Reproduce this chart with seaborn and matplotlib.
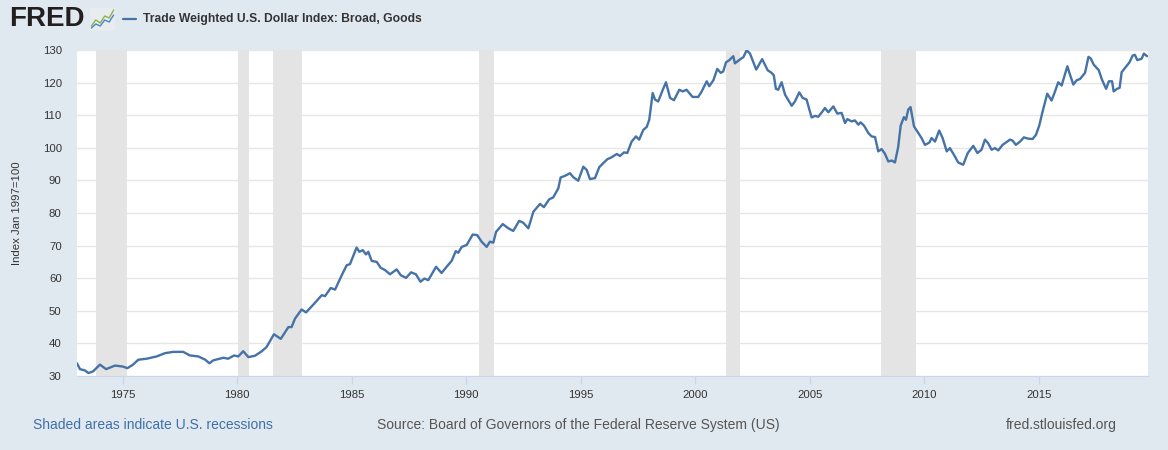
import matplotlib
matplotlib.use('Agg')
import matplotlib.pyplot as plt
import seaborn as sns
import pandas as pd

sns.set_style('white')
plt.rcParams['font.family'] = ['Liberation Sans', 'DejaVu Sans']

bg_color = '#e1e9f0'
line_color = '#4572a7'
text_color = '#333333'

# decimal year, index value
years = [
    1973.00, 1973.13, 1973.35, 1973.50, 1973.70, 1974.00, 1974.27, 1974.66, 1975.00, 1975.20,
    1975.43, 1975.68, 1976.04, 1976.48, 1976.84, 1977.20, 1977.64, 1977.93, 1978.30, 1978.60,
    1978.78, 1978.95, 1979.40, 1979.60, 1979.86, 1980.04, 1980.26, 1980.48, 1980.77, 1981.07,
    1981.28, 1981.60, 1981.90, 1982.23, 1982.37, 1982.52, 1982.81, 1983.00, 1983.32, 1983.69,
    1983.83, 1984.08, 1984.27, 1984.56, 1984.78, 1984.92, 1985.21, 1985.33, 1985.48, 1985.62,
    1985.72, 1985.87, 1986.09, 1986.26, 1986.45, 1986.67, 1986.96, 1987.14, 1987.37, 1987.59,
    1987.80, 1988.00, 1988.17, 1988.34, 1988.68, 1988.92, 1989.14, 1989.36, 1989.54, 1989.65,
    1989.80, 1990.02, 1990.28, 1990.48, 1990.67, 1990.89, 1991.03, 1991.18, 1991.30, 1991.59,
    1991.84, 1992.05, 1992.31, 1992.49, 1992.71, 1992.93, 1993.22, 1993.39, 1993.62, 1993.80,
    1994.02, 1994.12, 1994.31, 1994.53, 1994.67, 1994.89, 1995.11, 1995.26, 1995.40, 1995.62,
    1995.81, 1996.16, 1996.35, 1996.57, 1996.71, 1996.89, 1997.03, 1997.22, 1997.41, 1997.55,
    1997.73, 1997.88, 1997.99, 1998.14, 1998.24, 1998.38, 1998.57, 1998.72, 1998.90, 1999.07,
    1999.30, 1999.45, 1999.62, 1999.88, 2000.13, 2000.28, 2000.50, 2000.61, 2000.79, 2000.96,
    2001.11, 2001.22, 2001.34, 2001.49, 2001.66, 2001.73, 2001.95, 2002.10, 2002.24, 2002.39,
    2002.66, 2002.92, 2003.16, 2003.33, 2003.43, 2003.52, 2003.62, 2003.77, 2003.92, 2004.21,
    2004.35, 2004.54, 2004.69, 2004.86, 2005.08, 2005.23, 2005.37, 2005.56, 2005.66, 2005.81,
    2006.03, 2006.20, 2006.39, 2006.54, 2006.64, 2006.83, 2006.97, 2007.12, 2007.22, 2007.37,
    2007.56, 2007.70, 2007.85, 2007.99, 2008.14, 2008.28, 2008.43, 2008.58, 2008.72, 2008.86,
    2008.97, 2009.11, 2009.20, 2009.30, 2009.40, 2009.55, 2009.74, 2009.88, 2010.03, 2010.22,
    2010.32, 2010.47, 2010.65, 2010.80, 2010.98, 2011.12, 2011.30, 2011.48, 2011.70, 2011.90,
    2012.14, 2012.32, 2012.50, 2012.65, 2012.79, 2012.94, 2013.09, 2013.23, 2013.42, 2013.74,
    2013.86, 2014.00, 2014.18, 2014.35, 2014.54, 2014.73, 2014.88, 2015.02, 2015.17, 2015.37,
    2015.56, 2015.71, 2015.85, 2016.00, 2016.14, 2016.25, 2016.36, 2016.51, 2016.65, 2016.80,
    2017.02, 2017.17, 2017.27, 2017.40, 2017.62, 2017.76, 2017.94, 2018.06, 2018.20, 2018.27,
    2018.42, 2018.53, 2018.62, 2018.81, 2018.96, 2019.10, 2019.20, 2019.30, 2019.49, 2019.59,
    2019.73,
]
index_vals = [
    33.9, 32.1, 31.7, 30.9, 31.4, 33.5, 32.1, 33.2, 32.9, 32.4,
    33.4, 35.0, 35.3, 36.0, 37.0, 37.4, 37.4, 36.3, 36.0, 35.0,
    33.9, 34.8, 35.6, 35.3, 36.3, 36.0, 37.6, 35.8, 36.2, 37.6,
    38.9, 42.8, 41.4, 45.0, 45.0, 47.6, 50.4, 49.5, 51.9, 54.8,
    54.5, 57.0, 56.5, 60.9, 64.0, 64.3, 69.4, 68.1, 68.6, 67.3,
    68.1, 65.3, 65.0, 63.2, 62.5, 61.2, 62.7, 60.9, 60.1, 61.8,
    61.2, 58.9, 59.9, 59.4, 63.5, 61.6, 63.5, 65.3, 68.3, 67.8,
    69.6, 70.2, 73.4, 73.2, 71.2, 69.6, 71.2, 70.9, 74.2, 76.6,
    75.3, 74.5, 77.6, 77.0, 75.3, 80.4, 82.8, 81.8, 84.2, 84.8,
    87.6, 90.9, 91.4, 92.2, 91.0, 89.9, 94.2, 93.2, 90.4, 90.7,
    94.1, 96.5, 97.1, 98.1, 97.5, 98.6, 98.4, 101.9, 103.5, 102.5,
    105.5, 106.4, 108.6, 116.8, 114.8, 114.2, 117.6, 120.1, 115.3, 114.6,
    117.8, 117.3, 117.8, 115.6, 115.6, 117.3, 120.4, 118.9, 120.7, 124.2,
    123.0, 123.4, 126.2, 126.9, 128.1, 125.9, 127.1, 127.8, 129.9, 128.9,
    124.0, 127.2, 123.8, 123.0, 122.2, 118.1, 117.8, 120.1, 116.3, 112.9,
    114.2, 117.0, 115.3, 114.8, 109.3, 109.8, 109.5, 111.2, 112.2, 110.9,
    112.7, 110.5, 110.7, 107.6, 108.8, 108.1, 108.4, 107.1, 107.8, 106.8,
    104.5, 103.5, 103.3, 98.9, 99.6, 98.2, 95.8, 96.1, 95.5, 100.2,
    106.8, 109.4, 108.6, 111.7, 112.5, 106.6, 104.5, 103.0, 100.9, 101.6,
    103.0, 101.9, 105.3, 103.0, 98.9, 99.9, 97.8, 95.5, 94.8, 98.4,
    100.6, 98.4, 99.4, 102.5, 101.4, 99.4, 99.9, 99.2, 100.9, 102.5,
    102.2, 100.9, 101.9, 103.2, 102.8, 102.7, 104.0, 106.8, 111.2, 116.6,
    114.5, 117.3, 120.1, 119.1, 122.5, 125.0, 122.5, 119.4, 120.7, 121.1,
    123.0, 127.9, 127.4, 125.5, 123.8, 120.9, 118.1, 120.4, 120.4, 117.3,
    118.1, 118.4, 123.2, 124.9, 126.2, 128.3, 128.5, 126.9, 127.3, 128.9,
    128.1,
]

recession_starts = [1973.83, 1980.02, 1981.56, 1990.57, 2001.33, 2008.10]
recession_ends = [1975.17, 1980.51, 1982.84, 1991.21, 2001.95, 2009.62]

x_ticks = [1975, 1980, 1985, 1990, 1995, 2000, 2005, 2010, 2015]
y_ticks = [30, 40, 50, 60, 70, 80, 90, 100, 110, 120, 130]

df = pd.DataFrame({'year': years, 'value': index_vals})

W, H = 1168, 450
fig = plt.figure(figsize=(W / 100, H / 100), dpi=100, facecolor=bg_color)
ax = fig.add_axes([77 / W, 1 - 376 / H, (1148 - 77) / W, (376 - 50) / H])
ax.set_facecolor('white')

for start, end in zip(recession_starts, recession_ends):
    ax.axvspan(start, end, color='#e4e4e4', lw=0, zorder=1)

sns.lineplot(data=df, x='year', y='value', ax=ax, color=line_color, lw=1.7, zorder=3)

ax.set_xlim(1973.0, 2019.77)
ax.set_ylim(30, 130)
ax.set_xticks(x_ticks)
ax.set_xticklabels([str(y) for y in x_ticks])
ax.set_yticks(y_ticks)
ax.grid(axis='y', color='#e6e6e6', lw=1, zorder=0)
ax.grid(axis='x', visible=False)
ax.set_axisbelow(True)
for s in ['top', 'right', 'left']:
    ax.spines[s].set_visible(False)
ax.spines['bottom'].set_color('#ccd6eb')
ax.tick_params(axis='x', length=6, width=1, color='#ccd6eb', labelsize=8.2,
               labelcolor=text_color, pad=4, bottom=True)
ax.tick_params(axis='y', length=0, labelsize=8.2, labelcolor=text_color, pad=11)
ax.set_xlabel('')
ax.set_ylabel('Index Jan 1997=100', fontsize=8.2, color=text_color)
ax.yaxis.set_label_coords((22 - 77) / 1071, 0.5)

# header
fig.text(9 / W, 1 - 19 / H, 'FRED', fontsize=20, fontweight='bold', color='#231f20',
         va='center', ha='left')
icon = fig.add_axes([90 / W, 1 - 31 / H, 25 / W, 23 / H])
icon.set_facecolor('#e9ecef')
icon.plot([0, 1, 2, 3, 4, 5], [1, 2.2, 1.6, 3.0, 2.6, 4.2], color='#8ab34a', lw=1)
icon.plot([0, 1, 2, 3, 4, 5], [0.6, 1.4, 1.0, 2.2, 1.8, 3.2], color='#4a86c5', lw=1)
icon.set_xlim(-0.3, 5.3)
icon.set_ylim(0, 4.6)
icon.set_xticks([])
icon.set_yticks([])
for s in icon.spines.values():
    s.set_visible(False)

fig.add_artist(plt.Line2D([123 / W, 136 / W], [1 - 19 / H, 1 - 19 / H], color=line_color, lw=1.6))
fig.text(143 / W, 1 - 19 / H, 'Trade Weighted U.S. Dollar Index: Broad, Goods', fontsize=8.7,
         fontweight='bold', color=text_color, va='center', ha='left')

# footer
fig.text(33 / W, 1 - 425 / H, 'Shaded areas indicate U.S. recessions', fontsize=10,
         color='#3f6fa8', va='center', ha='left')
fig.text(377 / W, 1 - 425 / H, 'Source: Board of Governors of the Federal Reserve System (US)',
         fontsize=10, color='#555555', va='center', ha='left')
fig.text(1117 / W, 1 - 425 / H, 'fred.stlouisfed.org', fontsize=10, color='#555555',
         va='center', ha='right')

fig.savefig('out.png', dpi=100, facecolor=bg_color)
